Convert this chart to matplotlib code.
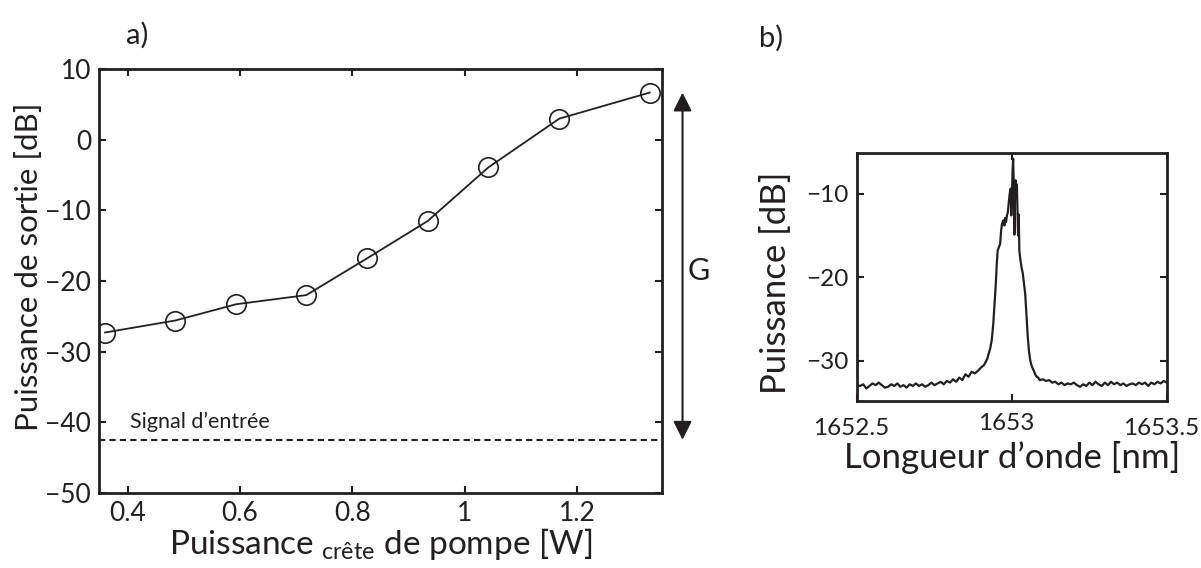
import matplotlib
matplotlib.use('Agg')
import matplotlib.pyplot as plt
import matplotlib.transforms as mtransforms

plt.rcParams['font.family'] = ['Lato', 'DejaVu Sans']
plt.rcParams['mathtext.fontset'] = 'custom'
plt.rcParams['mathtext.rm'] = 'Lato'

# a) output power vs peak pump power
pump_w = [0.360, 0.485, 0.593, 0.718, 0.826, 0.934, 1.042, 1.168, 1.329]
out_db = [-27.3, -25.6, -23.3, -22.0, -16.8, -11.5, -3.9, 3.0, 6.7]
signal_db = -42.5
a_xticks = [0.4, 0.6, 0.8, 1.0, 1.2]
a_xlabels = ['0.4', '0.6', '0.8', '1', '1.2']
a_yticks = [10, 0, -10, -20, -30, -40, -50]
a_ylabels = ['10', '0', '\u221210', '\u221220', '\u221230', '\u221240', '\u221250']

# b) spectrum
wl_nm = [1652.50, 1652.51, 1652.52, 1652.53, 1652.54, 1652.55, 1652.56, 1652.57, 1652.58, 1652.59,
         1652.60, 1652.61, 1652.62, 1652.63, 1652.64, 1652.65, 1652.66, 1652.67, 1652.68, 1652.69,
         1652.70, 1652.71, 1652.72, 1652.73, 1652.74, 1652.75, 1652.76, 1652.77, 1652.78, 1652.79,
         1652.80, 1652.81, 1652.82, 1652.83, 1652.84, 1652.85, 1652.86, 1652.87, 1652.88, 1652.89,
         1652.90, 1652.91, 1652.92, 1652.93, 1652.935, 1652.94, 1652.945, 1652.948, 1652.951, 1652.954,
         1652.958, 1652.962, 1652.965, 1652.968, 1652.972, 1652.976, 1652.978, 1652.981, 1652.984, 1652.987,
         1652.990, 1652.993, 1652.996, 1652.998, 1653.000, 1653.002, 1653.004, 1653.006, 1653.008, 1653.010,
         1653.012, 1653.014, 1653.016, 1653.018, 1653.020, 1653.022, 1653.024, 1653.027, 1653.031, 1653.035,
         1653.039, 1653.043, 1653.047, 1653.051, 1653.055, 1653.059, 1653.063, 1653.067, 1653.071, 1653.075,
         1653.080, 1653.085, 1653.09,
         1653.10, 1653.11, 1653.12, 1653.13, 1653.14, 1653.15, 1653.16, 1653.17, 1653.18, 1653.19,
         1653.20, 1653.21, 1653.22, 1653.23, 1653.24, 1653.25, 1653.26, 1653.27, 1653.28, 1653.29,
         1653.30, 1653.31, 1653.32, 1653.33, 1653.34, 1653.35, 1653.36, 1653.37, 1653.38, 1653.39,
         1653.40, 1653.41, 1653.42, 1653.43, 1653.44, 1653.45, 1653.46, 1653.47, 1653.48, 1653.49,
         1653.50]
spec_db = [-32.9, -33.0, -32.8, -33.3, -33.0, -32.7, -32.9, -32.6, -32.9, -33.2,
           -33.1, -32.8, -33.0, -32.7, -33.1, -32.9, -33.2, -32.8, -33.0, -32.7,
           -33.0, -32.8, -33.1, -32.9, -32.6, -32.9, -32.7, -32.5, -32.8, -32.4,
           -32.6, -32.2, -32.5, -32.0, -32.3, -31.6, -31.9, -31.3, -31.5, -31.2,
           -30.8, -30.5, -29.8, -28.5, -27.5, -25.5, -22.5, -20.8, -18.5, -16.8,
           -16.4, -16.0, -14.5, -13.6, -13.2, -13.8, -12.9, -13.4, -12.6, -12.2,
           -11.0, -10.0, -9.4, -12.6, -10.5, -7.5, -5.8, -9.0, -14.9, -9.5,
           -8.4, -10.5, -8.9, -12.0, -15.0, -12.5, -16.8, -17.8, -18.8, -19.5,
           -20.8, -22.0, -24.5, -27.0, -28.8, -29.9, -30.5, -30.9, -31.2, -31.6,
           -31.9, -32.0, -32.3,
           -32.2, -32.4, -32.3, -32.6, -32.5, -32.8, -32.6, -32.9, -32.7, -32.8,
           -32.6, -32.9, -33.1, -32.8, -33.0, -32.6, -32.9, -32.5, -32.8, -33.0,
           -32.6, -32.9, -32.5, -32.8, -32.6, -32.9, -32.7, -33.0, -32.8, -32.7,
           -32.9, -32.6, -32.8, -32.6, -33.0, -32.6, -32.8, -32.5, -32.7, -32.4,
           -32.6]
b_xticks = [1652.5, 1653.0, 1653.5]
b_xlabels = ['1652.5', '1653', '1653.5']
b_yticks = [-10, -20, -30]
b_ylabels = ['\u221210', '\u221220', '\u221230']

INK = '#231f20'


def style_axes(ax, size):
    for s in ax.spines.values():
        s.set_linewidth(2.0)
        s.set_color(INK)
    ax.tick_params(direction='in', length=5, width=1.5, top=True, right=True,
                   labelsize=size, colors=INK, pad=6)


fig = plt.figure(figsize=(12.01, 5.68), dpi=100)

ax1 = fig.add_axes([0.0828, 0.1326, 0.468, 0.7454])
ax1.plot(pump_w, out_db, color=INK, lw=1.3, marker='o', ms=14,
         mfc='none', mec=INK, mew=1.2)
ax1.axhline(signal_db, color=INK, lw=1.5, ls=(0, (3, 2)))
ax1.text(0.405, signal_db + 1.7, "Signal d\u2019entr\u00e9e", fontsize=15.5, color=INK)
ax1.set_xlim(0.35, 1.35)
ax1.set_ylim(-50, 10)
ax1.set_xticks(a_xticks)
ax1.set_xticklabels(a_xlabels)
ax1.set_yticks(a_yticks)
ax1.set_yticklabels(a_ylabels)
style_axes(ax1, 19)
ax1.set_xlabel('Puissance$_{\\ \\mathrm{cr\u00eate}}$ de pompe [W]', fontsize=24, labelpad=0, color=INK)
ax1.set_ylabel('Puissance de sortie [dB]', fontsize=22.5, color=INK)
ax1.yaxis.set_label_coords(-0.10, 0.533)

# gain arrow between input signal and last point
trans = mtransforms.blended_transform_factory(ax1.transAxes, ax1.transData)
ax1.annotate('', xy=(1.0374, signal_db), xytext=(1.0374, out_db[-1]),
             xycoords=trans, textcoords=trans, annotation_clip=False,
             arrowprops=dict(arrowstyle='<|-|>', color=INK, lw=1.5,
                             mutation_scale=28, shrinkA=0, shrinkB=0))
ax1.text(1.066, -18.6, 'G', transform=trans, fontsize=22, ha='center', va='center',
         color=INK)
fig.text(137 / 1201, 1 - 35 / 568, 'a)', fontsize=21, ha='center', va='center', color=INK)

ax2 = fig.add_axes([0.7136, 0.294, 0.2579, 0.4371])
ax2.plot(wl_nm, spec_db, color=INK, lw=1.6)
ax2.set_xlim(1652.5, 1653.5)
ax2.set_ylim(-34.8, -5.1)
ax2.set_xticks(b_xticks)
ax2.set_xticklabels(b_xlabels)
ax2.set_yticks(b_yticks)
ax2.set_yticklabels(b_ylabels)
style_axes(ax2, 17.5)
ax2.tick_params(axis='x', pad=12)
# tick labels sit a little left of their ticks in the original, middle one a bit higher
for i, lab in enumerate(ax2.get_xticklabels()):
    dy = 5 if i == 1 else 0
    lab.set_transform(lab.get_transform() +
                      mtransforms.ScaledTranslation(-6 / 100, dy / 100, fig.dpi_scale_trans))
ax2.set_xlabel('Longueur d\u2019onde [nm]', fontsize=25, labelpad=2, color=INK)
ax2.set_ylabel('Puissance [dB]', fontsize=25, color=INK)
ax2.yaxis.set_label_coords(-0.21, 0.477)
fig.text(771 / 1201, 1 - 38 / 568, 'b)', fontsize=21, ha='center', va='center', color=INK)

fig.savefig('out.png', dpi=100)
